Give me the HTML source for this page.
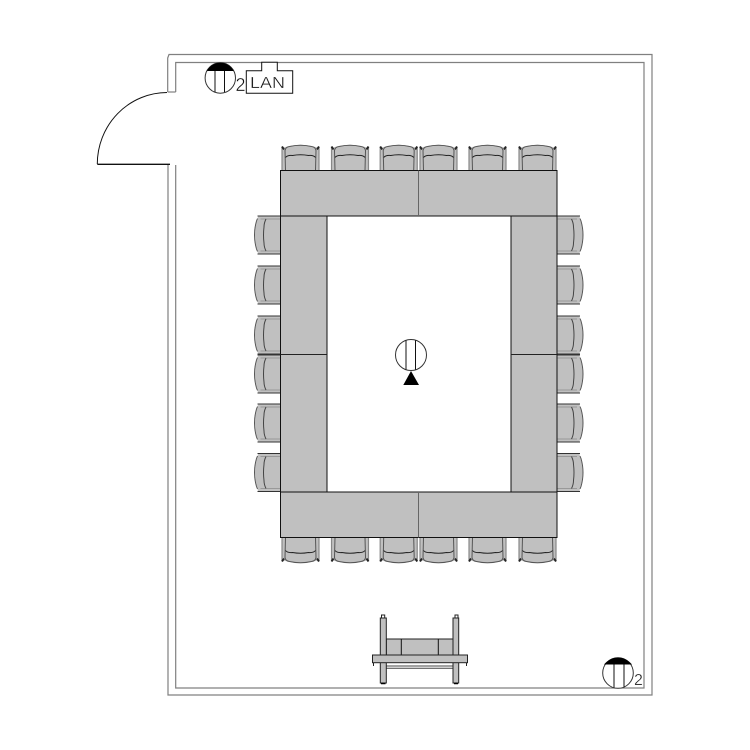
<!DOCTYPE html>
<html><head><meta charset="utf-8"><style>html,body{margin:0;padding:0;background:#fff}svg{display:block}text{font-family:"Liberation Sans",sans-serif;fill:#111;stroke:#fff;stroke-width:.35}</style></head>
<body>
<svg width="750" height="750" viewBox="0 0 750 750" xmlns="http://www.w3.org/2000/svg">
<defs>
<g id="c">
<path d="M-19,0 V-20 L-17.5,-23 L-13,-24 Q0,-27.5 13,-24 L17.5,-23 L19,-20 V0 Z" fill="#c0c0c0"/>
<path d="M-18.5,0 V-23" fill="none" stroke="#888" stroke-width="1.2"/>
<path d="M18.5,0 V-23" fill="none" stroke="#888" stroke-width="1.2"/>
<path d="M-15,0 L-15.5,-20 Q-15,-23.5 -11,-24 Q0,-26.5 11,-24 Q15,-23.5 15.5,-20 L15,0" fill="none" stroke="#555" stroke-width="1"/>
<path d="M-15,-13 Q-13,-15.5 -8,-15 Q0,-16.5 8,-15 Q13,-15.5 15,-13" fill="none" stroke="#222" stroke-width="1"/>
<path d="M-18.5,-24 L-16.5,-21 M18.5,-24 L16.5,-21" stroke="#222" stroke-width="2"/>
</g>
<g id="s">
<path d="M-19,0 V-22.5 L-16,-23 Q0,-28 16,-23 L19,-22.5 V0 Z" fill="#c0c0c0"/>
<path d="M-16.5,-23 L-14,-24 Q0,-28 14,-24 L16.5,-23" fill="none" stroke="#555" stroke-width="1"/>
<path d="M-19,0 V-23 M19,0 V-23" fill="none" stroke="#333" stroke-width="1"/>
<path d="M-16,0 V-20 M16,0 V-20" fill="none" stroke="#999" stroke-width="1"/>
<path d="M-16,-14.5 Q-12,-16.5 -8,-16.5 Q0,-17.5 8,-16.5 Q12,-16.5 16,-14.5" fill="none" stroke="#444" stroke-width="1"/>
</g>
</defs>
<g fill="none" stroke="#808080" stroke-width="1.2">
<path d="M167.7,92 V58 L169,54.5 H652 V695 H168 V165"/>
<path d="M175.7,92 V62.5 H644 V688 H175.7 V165"/>
<path d="M167.7,92 H175.7"/>
</g>
<path d="M167,92.5 A70,71.5 0 0 0 97.3,164" fill="none" stroke="#111" stroke-width="1"/>
<path d="M97.3,164.3 H170" stroke="#111" stroke-width="1.3"/>

<!-- chairs top -->
<use href="#c" transform="translate(300.5,170.5)"/>
<use href="#c" transform="translate(350,170.5)"/>
<use href="#c" transform="translate(398.7,170.5)"/>
<use href="#c" transform="translate(438.5,170.5)"/>
<use href="#c" transform="translate(487.5,170.5)"/>
<use href="#c" transform="translate(537.5,170.5)"/>
<!-- chairs bottom -->
<use href="#c" transform="translate(300.5,537.5) scale(1,-1)"/>
<use href="#c" transform="translate(350,537.5) scale(1,-1)"/>
<use href="#c" transform="translate(398.7,537.5) scale(1,-1)"/>
<use href="#c" transform="translate(438.5,537.5) scale(1,-1)"/>
<use href="#c" transform="translate(487.5,537.5) scale(1,-1)"/>
<use href="#c" transform="translate(537.5,537.5) scale(1,-1)"/>
<!-- chairs left -->
<use href="#s" transform="translate(280.5,235) rotate(-90)"/>
<use href="#s" transform="translate(280.5,285) rotate(-90)"/>
<use href="#s" transform="translate(280.5,335) rotate(-90)"/>
<use href="#s" transform="translate(280.5,374) rotate(-90)"/>
<use href="#s" transform="translate(280.5,423) rotate(-90)"/>
<use href="#s" transform="translate(280.5,472.5) rotate(-90)"/>
<!-- chairs right -->
<use href="#s" transform="translate(557,235) rotate(90)"/>
<use href="#s" transform="translate(557,285) rotate(90)"/>
<use href="#s" transform="translate(557,335) rotate(90)"/>
<use href="#s" transform="translate(557,374) rotate(90)"/>
<use href="#s" transform="translate(557,423) rotate(90)"/>
<use href="#s" transform="translate(557,472.5) rotate(90)"/>

<!-- tables -->
<g fill="#c0c0c0" stroke="#111" stroke-width="1">
<rect x="280.5" y="216" width="46.5" height="276"/>
<rect x="511" y="216" width="46" height="276"/>
<rect x="280.5" y="170.5" width="276.5" height="45.5"/>
<rect x="280.5" y="492" width="276.5" height="45.5"/>
</g>
<path d="M418.5,170.5 V216 M418.5,492 V537.5" stroke="#666" stroke-width="1"/>
<path d="M280.5,354.5 H327 M511,354.5 H557" stroke="#222" stroke-width="1"/>

<!-- outlet top-left -->
<circle cx="220.3" cy="78" r="15.2" fill="#fff" stroke="#333" stroke-width="1"/>
<path d="M206.8,71 A15.2,15.2 0 0 1 233.8,71 Z" fill="#000"/>
<path d="M215,71 V92 M224.5,71 V92" stroke="#111" stroke-width="1"/>
<text x="235.5" y="91" font-size="18">2</text>
<path d="M246.3,93.3 V70.7 H261.7 V62.3 H277.3 V70.7 H292.7 V93.3 Z" fill="#fff" stroke="#111" stroke-width="1"/>
<text x="250" y="88" font-size="16" textLength="35" lengthAdjust="spacingAndGlyphs">LAN</text>

<!-- center -->
<circle cx="411" cy="355" r="15.5" fill="#fff" stroke="#333" stroke-width="1"/>
<path d="M406,340.5 V369.5 M415.5,340.5 V369.5" stroke="#111" stroke-width="1"/>
<path d="M411,371 L419,385 H403.3 Z" fill="#000"/>

<!-- outlet bottom-right -->
<circle cx="618" cy="673" r="15.3" fill="#fff" stroke="#333" stroke-width="1"/>
<path d="M604,664.5 Q610,657.5 618,657.5 Q626,657.5 632,664.5 Z" fill="#000"/>
<path d="M614,664.5 V687.5 M624,664.5 V687.5" stroke="#111" stroke-width="1"/>
<text x="634" y="685" font-size="16">2</text>

<!-- projector table -->
<g stroke="#222" stroke-width="1">
<rect x="386.3" y="639" width="66.7" height="16" fill="#c0c0c0"/>
<path d="M401.3,639 V655 M438.3,639 V655" stroke="#111"/>
<path d="M386,666 H453 M386,668.3 H453" stroke="#444"/>
<rect x="381.5" y="615" width="3.2" height="3" fill="#fff"/>
<rect x="455" y="615" width="3" height="3" fill="#fff"/>
<rect x="380.3" y="618" width="6" height="65" fill="#c0c0c0"/>
<rect x="453" y="618" width="5.7" height="65" fill="#c0c0c0"/>
<rect x="372.5" y="655" width="95" height="7.7" fill="#c0c0c0"/>
<path d="M373.5,662.7 V666 M466.5,662.7 V666"/>
<path d="M381,683.5 H385.5 M454,683.5 H458" stroke="#000" stroke-width="1.5"/>
</g>
</svg>
</body></html>
